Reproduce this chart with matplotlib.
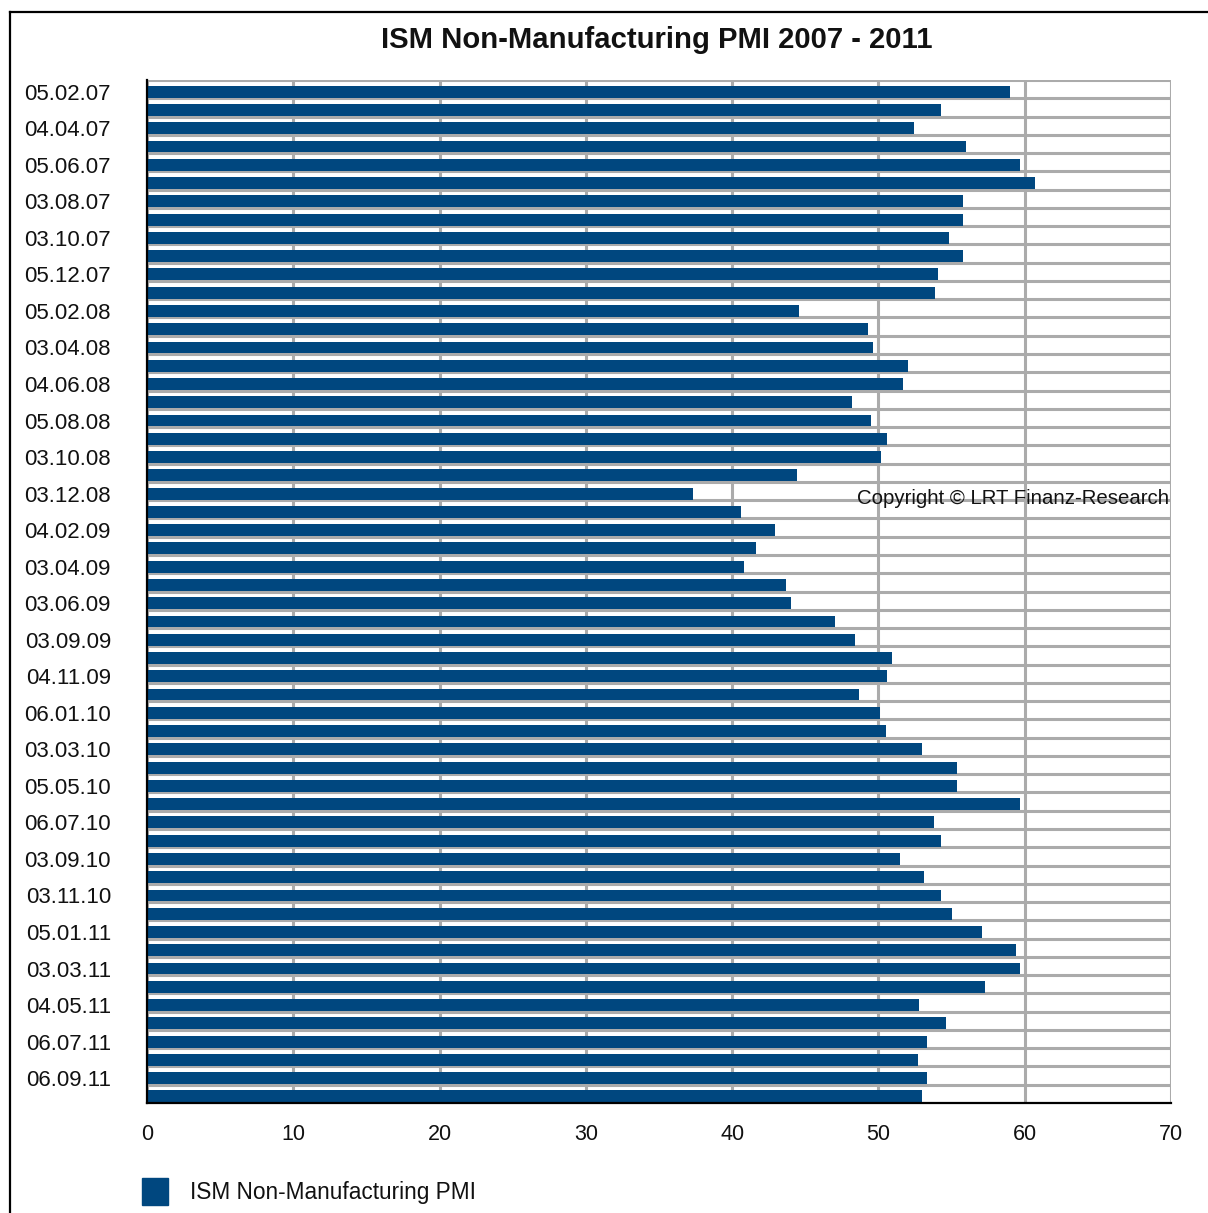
import numpy as np
import matplotlib.pyplot as plt
from matplotlib.lines import Line2D
from matplotlib.patches import Rectangle

plt.rcParams['font.family'] = ['Liberation Sans', 'DejaVu Sans']

# ISM Non-Manufacturing PMI, one value per release (Feb 2007 - Oct 2011)
pmi = [59.0, 54.3, 52.4, 56.0, 59.7, 60.7, 55.8, 55.8, 54.8, 55.8,
       54.1, 53.9, 44.6, 49.3, 49.6, 52.0, 51.7, 48.2, 49.5, 50.6,
       50.2, 44.4, 37.3, 40.6, 42.9, 41.6, 40.8, 43.7, 44.0, 47.0,
       48.4, 50.9, 50.6, 48.7, 50.1, 50.5, 53.0, 55.4, 55.4, 59.7,
       53.8, 54.3, 51.5, 53.1, 54.3, 55.0, 57.1, 59.4, 59.7, 57.3,
       52.8, 54.6, 53.3, 52.7, 53.3, 53.0]

# only every second release date is printed on the axis
date_labels = ['05.02.07', '04.04.07', '05.06.07', '03.08.07', '03.10.07',
               '05.12.07', '05.02.08', '03.04.08', '04.06.08', '05.08.08',
               '03.10.08', '03.12.08', '04.02.09', '03.04.09', '03.06.09',
               '03.09.09', '04.11.09', '06.01.10', '03.03.10', '05.05.10',
               '06.07.10', '03.09.10', '03.11.10', '05.01.11', '03.03.11',
               '04.05.11', '06.07.11', '06.09.11']

x_ticks = [0, 10, 20, 30, 40, 50, 60, 70]

bar_color = '#00477F'
grid_color = '#ABABAB'
text_color = '#111111'

W, H = 1208, 1213
fig = plt.figure(figsize=(W / 100, H / 100), dpi=100)
ax = fig.add_axes([147 / W, 1 - 1103 / H, (1171 - 147) / W, (1103 - 80) / H])

n = len(pmi)
pos = np.arange(n)

# slot separators and vertical grid
ax.hlines(np.arange(0, n), 0, 70, color=grid_color, lw=2.2, zorder=1)
ax.set_xticks(x_ticks)
ax.grid(axis='x', color=grid_color, lw=2.2, zorder=1)
ax.set_axisbelow(True)

# bars sit at the bottom of their slot
ax.barh(pos + 0.64, pmi, height=0.65, color=bar_color, zorder=3,
        label='ISM Non-Manufacturing PMI')

ax.set_xlim(0, 70)
ax.set_ylim(n, 0)
ax.set_yticks(pos[::2] + 0.64)
ax.set_yticklabels(date_labels)

for s in ['top', 'right']:
    ax.spines[s].set_visible(False)
for s in ['left', 'bottom']:
    ax.spines[s].set_color('black')
    ax.spines[s].set_linewidth(1.6)
    ax.spines[s].set_zorder(4)

ax.tick_params(axis='y', length=0, pad=26, labelsize=16, colors=text_color)
ax.tick_params(axis='x', length=0, pad=15, labelsize=15.5, colors=text_color)

fig.text(657 / W, 1 - 40 / H, 'ISM Non-Manufacturing PMI 2007 - 2011',
         ha='center', va='center', fontsize=21.1, fontweight='bold',
         color=text_color)

ax.text(857 / W, 1 - 499 / H, 'Copyright \u00a9 LRT Finanz-Research',
        transform=fig.transFigure, ha='left', va='center',
        fontsize=14.7, color=text_color, zorder=5)

# legend
fig.patches.append(Rectangle((142 / W, 1 - 1205 / H), 26 / W, 27 / H,
                             transform=fig.transFigure, color=bar_color))
fig.text(190 / W, 1 - 1193 / H, 'ISM Non-Manufacturing PMI',
         ha='left', va='center', fontsize=16.3, color=text_color)

# page frame
fig.lines.append(Line2D([10 / W, 1], [1 - 12 / H, 1 - 12 / H],
                        transform=fig.transFigure, color='black', lw=1.6))
fig.lines.append(Line2D([10 / W, 10 / W], [0, 1 - 12 / H],
                        transform=fig.transFigure, color='black', lw=1.6))

fig.savefig('out.png', dpi=100)
